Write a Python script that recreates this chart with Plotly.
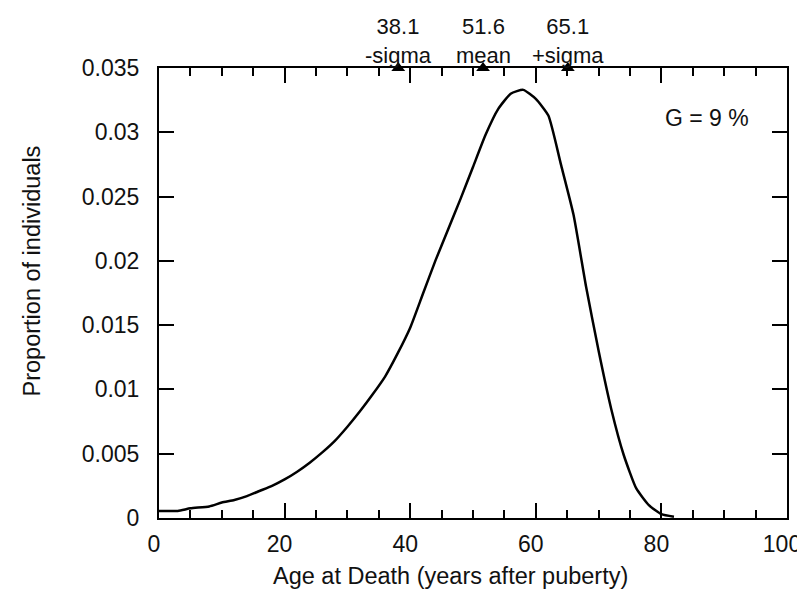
import plotly.graph_objects as go

# age at death (years after puberty) and proportion of individuals
age = [0, 3, 5, 8, 10, 12, 14, 16, 18, 20, 22, 24, 26, 28, 30, 32, 34, 36, 38, 40,
       42, 44, 46, 48, 50, 52, 54, 56, 58, 60, 62, 64, 66, 68, 70, 72, 74, 76, 78, 80, 82]
prop = [0.00055, 0.00055, 0.00075, 0.0009, 0.0012, 0.0014, 0.0017, 0.0021, 0.0025, 0.0030,
        0.0036, 0.0043, 0.0051, 0.0060, 0.0071, 0.0083, 0.0096, 0.0110, 0.0128, 0.0148,
        0.0174, 0.0200, 0.0224, 0.0248, 0.0273, 0.0298, 0.0318, 0.0330, 0.0333, 0.0326,
        0.0313, 0.0275, 0.0236, 0.0180, 0.0130, 0.0085, 0.0049, 0.0023, 0.0010, 0.0003, 0.0001]

# markers on the top axis
mark_x = [38.1, 51.6, 65.1]
mark_lbl = ["-sigma", "mean", "+sigma"]

x_ticks = [0, 20, 40, 60, 80, 100]
y_ticks = [0, 0.005, 0.01, 0.015, 0.02, 0.025, 0.03, 0.035]
y_ticktext = ["0", "0.005", "0.01", "0.015", "0.02", "0.025", "0.03", "0.035"]

FONT = "Liberation Sans, Arial, sans-serif"
INK = "#111111"
FS = 23

fig = go.Figure()
fig.add_trace(go.Scatter(x=age, y=prop, mode="lines",
                         line=dict(color="black", width=2.5, shape="spline", smoothing=0.5),
                         showlegend=False, hoverinfo="skip"))
fig.add_trace(go.Scatter(x=mark_x, y=[0.035] * 3, mode="markers", cliponaxis=False,
                         marker=dict(symbol="triangle-up", size=12, color="black"),
                         showlegend=False))

txt = dict(family=FONT, size=FS, color=INK)

# value on the first line, name on the second
for xv, lbl in zip(mark_x, mark_lbl):
    fig.add_annotation(x=xv, y=1.061, xref="x", yref="paper", yanchor="middle",
                       text=f"{xv}<br>{lbl}", showarrow=False,
                       font=dict(family=FONT, size=22, color=INK))

fig.add_annotation(x=0.942, y=0.889, xref="paper", yref="paper", xanchor="right",
                   yanchor="middle", text="G = 9 %", showarrow=False, font=txt)

# axis titles as annotations (they sit a little off the plot centre in the original)
fig.add_annotation(x=0.464, y=-0.128, xref="paper", yref="paper", yanchor="middle",
                   text="Age at Death (years after puberty)", showarrow=False,
                   font=dict(family=FONT, size=23.5, color=INK))
fig.add_annotation(x=-0.203, y=0.549, xref="paper", yref="paper", xanchor="center",
                   yanchor="middle", textangle=-90,
                   text="Proportion of individuals", showarrow=False,
                   font=dict(family=FONT, size=23.5, color=INK))

axis_common = dict(showline=True, linecolor="black", linewidth=2, mirror="allticks",
                   ticks="inside", tickcolor="black", tickwidth=2, ticklen=15,
                   showgrid=False, zeroline=False, tickfont=txt)

fig.update_xaxes(range=[0, 100], tickvals=x_ticks, ticklabelstandoff=4,
                 ticklabelshift=-5, ticklabeloverflow="allow",
                 minor=dict(dtick=5, ticks="inside", ticklen=8, tickwidth=2, tickcolor="black"),
                 **axis_common)
fig.update_yaxes(range=[0, 0.035], tickvals=y_ticks, ticktext=y_ticktext, ticklabelstandoff=13,
                 **axis_common)

fig.update_layout(width=805, height=590, plot_bgcolor="white", paper_bgcolor="white",
                  margin=dict(l=151, r=19, t=60, b=80))

fig.write_html("out.html")
